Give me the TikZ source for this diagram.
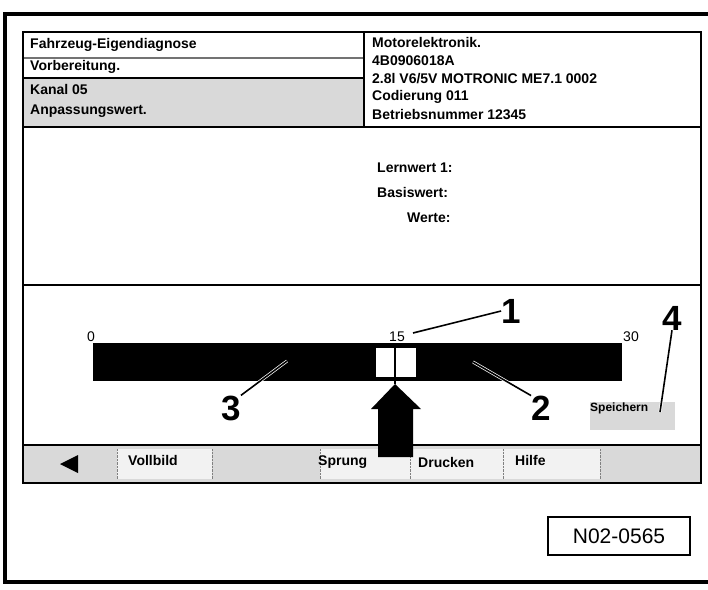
\documentclass[tikz,border=0pt]{standalone}
\usepackage{fontspec}
\setmainfont{Liberation Sans}
\tikzset{
  scrtext/.style={anchor=west,inner sep=0pt,font=\bfseries\fontsize{14}{16}\selectfont},
  callout/.style={inner sep=0pt,font=\bfseries\fontsize{35}{40}\selectfont},
  scalelabel/.style={inner sep=0pt,font=\fontsize{14}{16}\selectfont},
  leader/.style={draw=white,double=black,double distance=1.6pt,line width=0.7pt},
  panel/.style={fill=black!15},
  button/.style={fill=black!5}
}
\begin{document}
\begin{tikzpicture}[x=1pt,y=-1pt]
\useasboundingbox (0,0) rectangle (708,589);
\fill[white] (0,0) rectangle (708,589);
\begin{scope}
\clip (0,0) rectangle (708,589);
\draw[line width=4pt] (5,14) rectangle (720,582);
\end{scope}
% header
\fill[panel] (23,78) rectangle (364,127);
\draw[black!55,line width=1.5pt] (23,58) -- (364,58);
\draw[line width=1.2pt] (23,78) -- (364,78);
\draw[line width=2pt] (364,32) -- (364,127);
\node[scrtext] (h1) at (30,45) {Fahrzeug-Eigendiagnose};
\node[scrtext] (h2) at (30,67) {Vorbereitung.};
\node[scrtext] (h3) at (30,89) {Kanal 05};
\node[scrtext] (h4) at (30,111) {Anpassungswert.};
\node[scrtext] (r1) at (372,42) {Motorelektronik.};
\node[scrtext] (r2) at (372,61) {4B0906018A};
\node[scrtext] (r3) at (372,79) {2.8l V6/5V MOTRONIC ME7.1 0002};
\node[scrtext] (r4) at (372,97) {Codierung 011};
\node[scrtext] (r5) at (372,115) {Betriebsnummer 12345};
\draw[line width=2pt] (23,127) -- (701,127);
% middle
\node[scrtext] (m1) at (377,168) {Lernwert 1:};
\node[scrtext] (m2) at (377,192) {Basiswert:};
\node[scrtext] (m3) at (407,218) {Werte:};
\draw[line width=2pt] (23,285) -- (701,285);
% scale
\fill (93,343) rectangle (622,381);
\draw[fill=white] (375,347) rectangle (395,377);
\draw[fill=white] (395,347) rectangle (416,377);
\draw[line width=1.5pt] (395,343) -- (395,384);
\node[scalelabel] (t0) at (91,337) {0};
\node[scalelabel] (t15) at (397,337) {15};
\node[scalelabel] (t30) at (631,337) {30};
\fill[panel] (590,402) rectangle (675,430);
\node[scrtext,font=\bfseries\fontsize{12}{14}\selectfont] (save) at (590,408) {Speichern};
% button bar
\fill[panel] (23,445) rectangle (701,483);
\fill[button] (117,449) rectangle (212,479);
\fill[button] (320,449) rectangle (503,479);
\fill[button] (503,449) rectangle (600,479);
\foreach \x in {117,212,320,410,503,600}
  \draw[densely dotted,black!50] (\x,449) -- (\x,479);
\draw[line width=2pt] (23,445) -- (701,445);
\fill (60,464) -- (78,455) -- (78,473) -- cycle;
\node[scrtext] (b1) at (128,460) {Vollbild};
\node[scrtext] (b2) at (318,462) {Sprung};
\node[scrtext] (b3) at (418,462) {Drucken};
\node[scrtext] (b4) at (515,460) {Hilfe};
\draw[line width=2.5pt] (23,32) rectangle (701,483);
% arrow
\fill (378,457) -- (378,409) -- (371,409) -- (395,384) -- (421,409) -- (413,409) -- (413,457) -- cycle;
% callouts
\node[callout] (c1) at (511,311) {1};
\node[callout] (c2) at (541,408) {2};
\node[callout] (c3) at (231,408) {3};
\node[callout] (c4) at (672,318) {4};
\coordinate (p1) at (413,333);
\coordinate (p2) at (473,362);
\coordinate (p3) at (287,361);
\coordinate (p4) at (660,412);
\draw[leader] (c1.west) -- (p1);
\draw[leader] (c2.north west) -- (p2);
\draw[leader] (c3.north east) -- (p3);
\draw[leader] (c4.south) -- (p4);
\node[draw,line width=2pt,minimum width=142pt,minimum height=38pt,font=\fontsize{21}{24}\selectfont] (fig) at (619,536) {N02-0565};
\end{tikzpicture}
\end{document}
